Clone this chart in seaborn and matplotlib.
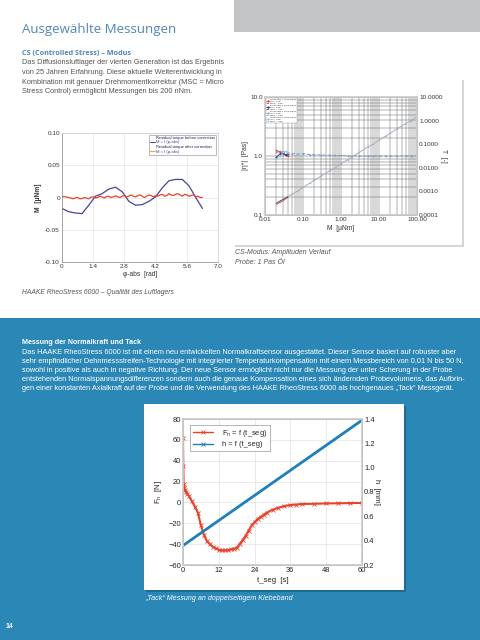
import matplotlib
matplotlib.use('Agg')  # headless
import matplotlib.pyplot as plt
from matplotlib.patches import Rectangle
from matplotlib.lines import Line2D
from matplotlib.ticker import FixedLocator, FormatStrFormatter, NullFormatter
import seaborn as sns
import numpy as np

W, H = 480, 640

# --- left chart: residual torque of the air bearing ---
phi_before = [0.0, 0.3, 0.6, 0.9, 1.2, 1.5, 1.8, 2.1, 2.4, 2.7, 3.0, 3.3, 3.6, 3.9,
              4.2, 4.5, 4.8, 5.1, 5.4, 5.7, 6.0, 6.3]
m_before = [-0.017, -0.022, -0.024, -0.025, -0.012, 0.002, 0.006, 0.013, 0.016, 0.009,
            -0.006, -0.012, -0.011, -0.006, 0.001, 0.015, 0.026, 0.028, 0.028, 0.018,
            0.0, -0.017]
m_after = [0.001, 0.0015, 0.0008, 0.0, -0.001, -0.002, -0.0005, 0.0, -0.002, -0.0015,
           0.0, -0.001, -0.002, 0.0005, 0.001, -0.0005, 0.0, 0.002, 0.001, -0.001,
           0.0015, 0.002, 0.0, 0.001, 0.0025, 0.001, 0.0, 0.002, 0.003, 0.001,
           0.002, 0.004, 0.002, 0.001, 0.003, 0.004, 0.002, 0.0, 0.002, 0.004,
           0.003, 0.001, 0.003, 0.002, 0.004, 0.005, 0.002, 0.003, 0.006, 0.004,
           0.003, 0.005, 0.006, 0.004, 0.002, 0.005, 0.004, 0.002, 0.003, 0.004,
           0.001, 0.002, 0.0, 0.0]
phi_after = np.arange(len(m_after)) * 0.1
phi_ticks = [0, 1.4, 2.8, 4.2, 5.6, 7.0]
m_ticks = [-0.10, -0.05, 0, 0.05, 0.10]

# --- right chart: CS amplitude sweep, 1 Pas oil ---
torque = [0.02, 0.025, 0.03, 0.04, 0.05, 0.07, 0.1, 0.15, 0.2, 0.3, 0.5, 0.7, 1.0,
          1.5, 2.0, 3.0, 5.0, 7.0, 10.0, 15.0, 20.0, 30.0, 50.0, 70.0, 100.0]
visc_grey = [1.15, 1.2, 1.18, 1.12, 1.1, 1.08, 1.1, 1.06, 1.05, 1.04, 1.03, 1.02, 1.02,
             1.01, 1.0, 1.0, 1.0, 1.0, 1.0, 1.0, 1.0, 1.0, 1.0, 1.0, 1.0]
tan_grey = [0.0003, 0.00036, 0.00045, 0.0006, 0.00075, 0.001, 0.0015, 0.0022, 0.003,
            0.0045, 0.0075, 0.01, 0.015, 0.022, 0.03, 0.045, 0.075, 0.1, 0.15, 0.22,
            0.3, 0.45, 0.75, 1.0, 1.5]
torque_short = [0.02, 0.025, 0.03, 0.035, 0.04]
visc_red = [1.25, 1.15, 1.08, 1.02, 1.0]
visc_blue = [0.95, 1.1, 1.12, 1.05, 1.08]
visc_light = [0.9, 1.0, 1.15, 1.2, 1.12]
tan_red = [0.00028, 0.00034, 0.0004, 0.00048, 0.00055]
tan_blue = [0.00032, 0.0004, 0.00046, 0.00052, 0.0006]

# --- bottom chart: tack test on double-sided tape ---
t_fn = [0, 0.1, 0.2, 0.4, 0.7, 1, 1.5, 2, 3, 4, 5, 6, 7, 8, 9, 10, 11, 12, 13, 14, 15,
        16, 17, 18, 19, 20, 21, 22, 23, 24, 25, 26, 27, 28, 30, 32, 34, 36, 38, 40, 44,
        48, 52, 56, 60]
fn = [62, 35, 18, 14, 12, 10, 8, 6, 1, -4, -10, -22, -31, -37, -40, -42.5, -44, -45.5,
      -46, -46, -45.8, -45, -44.5, -43.5, -40, -36, -32, -27, -22, -19, -16, -14, -12,
      -10, -7, -5, -3.5, -2.5, -2, -1.5, -1.3, -1, -0.8, -0.6, -0.5]
t_h = [0, 60]
h_gap = [0.36, 1.39]

BLUE_BAND = '#2b87b6'
TITLE_BLUE = '#4f86b8'
TXT = '#555555'

sns.set_theme(style="whitegrid")
plt.rcParams['font.family'] = ['Liberation Sans', 'DejaVu Sans']
plt.rcParams['mathtext.fontset'] = 'custom'
plt.rcParams['mathtext.rm'] = 'Liberation Sans'


def box(l, t, r, b):
    """Pixel box (left, top, right, bottom) -> figure fraction rect."""
    return [l / W, 1 - b / H, (r - l) / W, (b - t) / H]


def rect(fig, l, t, r, b, color, z=-5):
    fig.add_artist(Rectangle((l / W, 1 - b / H), (r - l) / W, (b - t) / H,
                             transform=fig.transFigure, color=color, zorder=z, lw=0))


def ftext(fig, x, y, s, **kw):
    kw.setdefault('va', 'center')
    fig.text(x / W, 1 - y / H, s, **kw)


fig = plt.figure(figsize=(4.8, 6.4), dpi=100)
fig.patch.set_facecolor('white')

# page background pieces
rect(fig, 234, 0, 480, 32, '#c3c5c7')
rect(fig, 0, 318, 480, 640, BLUE_BAND)
rect(fig, 235, 80, 464, 247, '#d5d5d5', z=-4)   # shadow
rect(fig, 233, 78, 462, 245, 'white', z=-3)
rect(fig, 146, 406, 406, 592, '#1f6b93', z=-4)  # shadow
rect(fig, 144, 404, 404, 590, 'white', z=-3)

# texts, top section
ftext(fig, 22, 29, "Ausgewählte Messungen", fontsize=9.5, color=TITLE_BLUE,
      family=['Open Sans', 'DejaVu Sans'])
ftext(fig, 22, 53, "CS (Controlled Stress) – Modus", fontsize=5.2, color=TITLE_BLUE,
      fontweight='bold', family=['Open Sans', 'DejaVu Sans'])
left_lines = ["Das Diffusionsluftlager der vierten Generation ist das Ergebnis",
              "von 25 Jahren Erfahrung. Diese aktuelle Weiterentwicklung in",
              "Kombination mit genauer Drehmomentkorrektur (MSC = Micro",
              "Stress Control) ermöglicht Messungen bis 200 nNm."]
for i, line in enumerate(left_lines):
    ftext(fig, 22, 63 + i * 9.6, line, fontsize=5.3, color=TXT)

ftext(fig, 22, 292, "HAAKE RheoStress 6000 – Qualität des Luftlagers", fontsize=4.9,
      color=TXT, style='italic')
ftext(fig, 235, 253, "CS-Modus: Amplituden Verlauf", fontsize=5.0, color=TXT, style='italic')
ftext(fig, 235, 262, "Probe: 1 Pas Öl", fontsize=5.0, color=TXT, style='italic')

# texts, blue section
ftext(fig, 22, 343, "Messung der Normalkraft und Tack", fontsize=5.1, color='white',
      fontweight='bold')
bottom_lines = [
    "Das HAAKE RheoStress 6000 ist mit einem neu entwickelten Normalkraftsensor ausgestattet. Dieser Sensor basiert auf robuster aber",
    "sehr empfindlicher Dehnmessstreifen-Technologie mit integrierter Temperaturkompensation mit einem Messbereich von 0,01 N bis 50 N,",
    "sowohl in positive als auch in negative Richtung. Der neue Sensor ermöglicht nicht nur die Messung der unter Scherung in der Probe",
    "entstehenden Normalspannungsdifferenzen sondern auch die genaue Kompensation eines sich ändernden Probevolumens, das Aufbrin-",
    "gen einer konstanten Axialkraft auf der Probe und die Verwendung des HAAKE RheoStress 6000 als hochgenaues „Tack“ Messgerät.",
]
for i, line in enumerate(bottom_lines):
    ftext(fig, 22, 352 + i * 9.2, line, fontsize=5.3, color='white')
ftext(fig, 145, 598, "„Tack“ Messung an doppelseitigem Klebeband", fontsize=5.1,
      color='white', style='italic')
ftext(fig, 6, 627, "14", fontsize=5, color='white', fontweight='bold')

# ---------- left chart ----------
ax1 = fig.add_axes(box(62, 133, 218, 262))
ax1.set_facecolor('white')
sns.lineplot(x=phi_before, y=m_before, ax=ax1, color='#45459e', lw=0.9)
sns.lineplot(x=phi_after, y=m_after, ax=ax1, color='#e8432b', lw=0.9)
ax1.set_xlim(0, 7.0)
ax1.set_ylim(-0.10, 0.10)
ax1.set_xticks(phi_ticks)
ax1.set_xticklabels(["0", "1.4", "2.8", "4.2", "5.6", "7.0"])
ax1.set_yticks(m_ticks)
ax1.set_yticklabels(["-0.10", "-0.05", "0", "0.05", "0.10"])
ax1.tick_params(labelsize=4.6, pad=1.5, colors='#333333', length=0)
ax1.grid(color='#e4e4e4', lw=0.5)
for s in ax1.spines.values():
    s.set_color('#cccccc')
    s.set_linewidth(0.5)
ax1.spines['left'].set_color('#888888')
ax1.spines['bottom'].set_color('#888888')
ax1.set_xlabel("φ-abs  [rad]", fontsize=4.8, labelpad=1.5, color='#333333')
ax1.set_ylabel("M  [µNm]", fontsize=4.8, labelpad=2, color='#333333', fontweight='bold')
h1 = [Line2D([], [], lw=0), Line2D([], [], color='#45459e', lw=0.7),
      Line2D([], [], lw=0), Line2D([], [], color='#e8a04b', lw=0.7)]
l1 = ["Residual torque before correction", "M = f (φ-abs)",
      "Residual torque after correction", "M = f (φ-abs)"]
leg1 = ax1.legend(h1, l1, loc='upper right', fontsize=2.9, handlelength=1.2,
                  handletextpad=0.3, labelspacing=0.15, borderpad=0.3,
                  fancybox=False, framealpha=1, borderaxespad=0.4)
leg1.get_frame().set_edgecolor('#888888')
leg1.get_frame().set_linewidth(0.4)
for txt, col in zip(leg1.get_texts(), ['#1a1a5a', '#45459e', '#1a1a5a', '#45459e']):
    txt.set_color(col)

# ---------- right chart ----------
ax2 = fig.add_axes(box(265, 97, 417, 215))
ax2.set_facecolor('white')
ax2.set_xscale('log')
ax2.set_yscale('log')
sns.lineplot(x=torque, y=visc_grey, ax=ax2, color='#7f9cc0', lw=0.7, marker='.',
             markersize=2.5, markeredgewidth=0, linestyle='--')
sns.lineplot(x=torque_short, y=visc_red, ax=ax2, color='#e03a2a', lw=0.6, marker='.',
             markersize=2.5, markeredgewidth=0)
sns.lineplot(x=torque_short, y=visc_blue, ax=ax2, color='#23306f', lw=0.6, marker='.',
             markersize=2.5, markeredgewidth=0)
sns.lineplot(x=torque_short, y=visc_light, ax=ax2, color='#8fc5e8', lw=0.6, marker='.',
             markersize=2.5, markeredgewidth=0)
ax2.set_xlim(0.01, 100)
ax2.set_ylim(0.1, 10)
ax2.xaxis.set_major_locator(FixedLocator([0.01, 0.1, 1, 10, 100]))
ax2.set_xticklabels(["0.01", "0.10", "1.00", "10.00", "100.00"])
ax2.yaxis.set_major_locator(FixedLocator([0.1, 1, 10]))
ax2.set_yticklabels(["0.1", "1.0", "10.0"])
ax2.xaxis.set_minor_formatter(NullFormatter())
ax2.yaxis.set_minor_formatter(NullFormatter())
ax2.grid(which='both', color='#666666', lw=0.35)
ax2.tick_params(which='both', labelsize=4.6, pad=1.5, colors='#333333', length=0)
for s in ax2.spines.values():
    s.set_color('#555555')
    s.set_linewidth(0.5)
ax2.set_xlabel("M  [µNm]", fontsize=4.8, labelpad=2, color='#333333')
ax2.set_ylabel("|η*|  [Pas]", fontsize=4.8, labelpad=1, color='#333333')

ax2r = ax2.twinx()
ax2r.set_yscale('log')
sns.lineplot(x=torque, y=tan_grey, ax=ax2r, color='#a3b0c2', lw=0.7, marker='.',
             markersize=2, markeredgewidth=0)
sns.lineplot(x=torque_short, y=tan_red, ax=ax2r, color='#e03a2a', lw=0.5)
sns.lineplot(x=torque_short, y=tan_blue, ax=ax2r, color='#23306f', lw=0.5)
ax2r.set_ylim(0.0001, 10)
ax2r.yaxis.set_major_locator(FixedLocator([0.0001, 0.001, 0.01, 0.1, 1, 10]))
ax2r.yaxis.set_major_formatter(FormatStrFormatter('%.4f'))
ax2r.yaxis.set_minor_formatter(NullFormatter())
ax2r.grid(False)
ax2r.tick_params(which='both', labelsize=4.6, pad=1.5, colors='#333333', length=0)
ax2r.set_ylabel("T  [-]", fontsize=4.8, labelpad=3, color='#333333', rotation=270)

group_cols = ['#e03a2a', '#23306f', '#9aa7b8', '#8fc5e8']
h2, l2 = [], []
for k, col in enumerate(group_cols, start=1):
    h2 += [Line2D([], [], lw=0), Line2D([], [], color=col, lw=0.5, marker='.', ms=1.2),
           Line2D([], [], color=col, lw=0.5, ls='--')]
    l2 += [f"cs-ms test {k} 1000 mPas", "|η*| = f (M)", "tan δ = f (M)"]
leg2 = ax2.legend(h2, l2, loc='upper left', fontsize=1.75, handlelength=1.2,
                  handletextpad=0.3, labelspacing=0.12, borderpad=0.3,
                  fancybox=False, framealpha=1, borderaxespad=0.3)
leg2.get_frame().set_edgecolor('#999999')
leg2.get_frame().set_linewidth(0.3)
leg2.set_zorder(5)

# ---------- bottom chart ----------
ax3 = fig.add_axes(box(183, 419, 362, 565))
ax3.set_facecolor('white')
sns.lineplot(x=t_fn, y=fn, ax=ax3, color='#e8432b', lw=1.5, marker='x',
             markersize=2.5, markeredgewidth=0.6, markeredgecolor='#e8432b')
ax3.set_xlim(0, 60)
ax3.set_ylim(-60, 80)
ax3.set_xticks([0, 12, 24, 36, 48, 60])
ax3.set_yticks([-60, -40, -20, 0, 20, 40, 60, 80])
ax3.tick_params(labelsize=5.4, pad=1.5, colors='#222222', length=0)
ax3.grid(color='#e2e2e2', lw=0.5)
for s in ax3.spines.values():
    s.set_color('#777777')
    s.set_linewidth(0.6)
ax3.set_xlabel("t_seg  [s]", fontsize=5.6, labelpad=2, color='#222222')
ax3.set_ylabel(r"F$_\mathregular{n}$  [N]", fontsize=5.6, labelpad=3, color='#222222')

ax4 = ax3.twinx()
sns.lineplot(x=t_h, y=h_gap, ax=ax4, color='#1f7fb8', lw=2.0)
ax4.set_ylim(0.2, 1.4)
ax4.set_yticks([0.2, 0.4, 0.6, 0.8, 1.0, 1.2, 1.4])
ax4.set_yticklabels(["0.2", "0.4", "0.6", "0.8", "1.0", "1.2", "1.4"])
ax4.grid(False)
ax4.tick_params(labelsize=5.4, pad=1.5, colors='#222222', length=0)
ax4.set_ylabel("h  [mm]", fontsize=5.6, labelpad=4, color='#222222', rotation=270)

h3 = [Line2D([], [], color='#e8432b', lw=1.0, marker='x', ms=3, mew=0.6),
      Line2D([], [], color='#1f7fb8', lw=1.0, marker='x', ms=3, mew=0.6)]
l3 = [r"F$_\mathregular{n}$ = f (t_seg)", "h = f (t_seg)"]
leg3 = ax4.legend(h3, l3, loc='upper left', fontsize=5.4, handlelength=2.6,
                  handletextpad=1.2, labelspacing=0.3, borderpad=0.4,
                  fancybox=False, framealpha=1, borderaxespad=0.5,
                  bbox_to_anchor=(0.02, 0.985))
leg3.get_frame().set_edgecolor('#999999')
leg3.get_frame().set_linewidth(0.5)

fig.savefig('out.png', dpi=100, facecolor=fig.get_facecolor())
plt.close(fig)
